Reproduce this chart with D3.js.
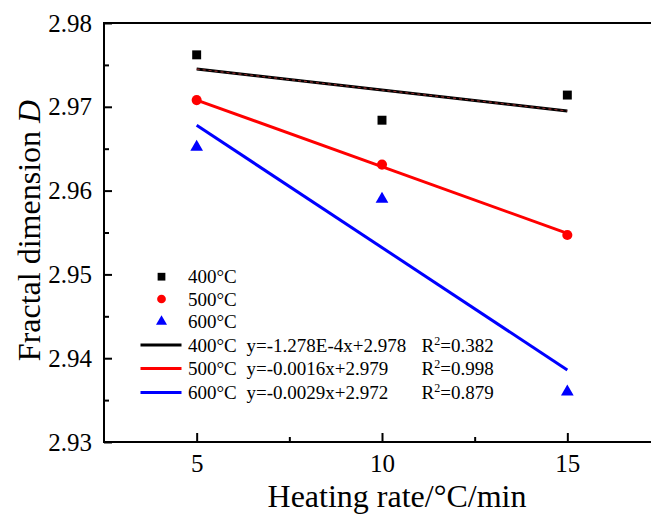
<!DOCTYPE html>
<html>
<head>
<meta charset="utf-8">
<script src="https://cdn.jsdelivr.net/npm/d3@7"></script>
<style>
  body { margin: 0; background: #fff; }
  svg { display: block; }
  svg text { font-family: "Liberation Serif", "Times New Roman", serif; }
</style>
</head>
<body>
<svg id="chart" width="651" height="514"></svg>
<script>
// heating rates (x) and measured fractal dimension per temperature
var rates = [5, 10, 15];
var d400 = [2.9762, 2.9684, 2.9714];
var d500 = [2.9708, 2.9631, 2.9547];
var d600 = [2.9652, 2.9590, 2.9360];
// fitted lines, read at x = 5 and x = 15
var fitX = [5, 15];
var fit400 = [2.9745, 2.9695];
var fit500 = [2.9708, 2.9549];
var fit600 = [2.9678, 2.9386];
var xTicks = [5, 10, 15];
var yTicks = [2.93, 2.94, 2.95, 2.96, 2.97, 2.98];
var legendNames = ["400°C", "500°C", "600°C"];
var fitEq = ["y=-1.278E-4x+2.978", "y=-0.0016x+2.979", "y=-0.0029x+2.972"];
var fitR2 = ["0.382", "0.998", "0.879"];

var colors = ["#000000", "#ff0000", "#0000ff"];
var svg = d3.select("#chart");

var x = d3.scaleLinear().domain([2.5, 17.5]).range([104, 660]);
var y = d3.scaleLinear().domain([2.93, 2.98]).range([442, 23]);

// frame (right side lies past the picture edge)
svg.append("rect")
    .attr("x", x(2.5)).attr("y", y(2.98))
    .attr("width", x(17.5) - x(2.5)).attr("height", y(2.93) - y(2.98))
    .attr("fill", "none").attr("stroke", "#000").attr("stroke-width", 2);

// bottom axis
var xAxis = svg.append("g").attr("transform", "translate(0," + y(2.93) + ")")
    .call(d3.axisBottom(x).tickValues(xTicks).tickSize(-9).tickPadding(20).tickFormat(d3.format("d")));
svg.append("g").attr("transform", "translate(0," + y(2.93) + ")")
    .call(d3.axisBottom(x).tickValues([7.5, 12.5]).tickSize(-5).tickFormat(""));

// left axis
var yAxis = svg.append("g").attr("transform", "translate(" + x(2.5) + ",0)")
    .call(d3.axisLeft(y).tickValues(yTicks).tickSize(-8).tickPadding(12).tickFormat(d3.format(".2f")));
svg.append("g").attr("transform", "translate(" + x(2.5) + ",0)")
    .call(d3.axisLeft(y).tickValues([2.935, 2.945, 2.955, 2.965, 2.975]).tickSize(-5).tickFormat(""));

svg.selectAll(".domain").remove();
xAxis.attr("font-family", "Liberation Serif").attr("font-size", 25);
yAxis.attr("font-family", "Liberation Serif").attr("font-size", 25);
svg.selectAll(".tick line").attr("stroke", "#000").attr("stroke-width", 2);
svg.selectAll(".tick text").attr("fill", "#000");
xAxis.selectAll(".tick text").attr("dy", "0.71em").attr("y", 12);

// axis titles
svg.append("text").attr("x", 397).attr("y", 507)
    .attr("text-anchor", "middle").attr("font-size", 32)
    .text("Heating rate/°C/min");
var yt = svg.append("text")
    .attr("transform", "translate(40," + ((y(2.93) + y(2.98)) / 2 - 2) + ") rotate(-90)")
    .attr("text-anchor", "middle").attr("font-size", 32);
yt.append("tspan").text("Fractal dimension ");
yt.append("tspan").attr("font-style", "italic").text("D");

// fit lines
var fits = [fit400, fit500, fit600];
var line = d3.line().x(function(d, i){ return x(fitX[i]); }).y(function(d){ return y(d); });
fits.forEach(function(f, k){
    svg.append("path").datum(f).attr("d", line)
        .attr("fill", "none").attr("stroke", colors[k]).attr("stroke-width", 3);
});
// the black fit line shows a reddish hatch in the original
svg.append("path").datum(fit400).attr("d", line)
    .attr("fill", "none").attr("stroke", "#8a2a2a").attr("stroke-width", 1.2)
    .attr("stroke-dasharray", "3,3");

// markers
var sym = [d3.symbolSquare, d3.symbolCircle, d3.symbolTriangle];
var sizes = [80, 80, 70];
[d400, d500, d600].forEach(function(s, k){
    svg.append("g").selectAll("path").data(s).enter().append("path")
        .attr("transform", function(d, i){ return "translate(" + x(rates[i]) + "," + y(d) + ")"; })
        .attr("d", d3.symbol().type(sym[k]).size(sizes[k]))
        .attr("fill", colors[k]);
});

// legend
var lg = svg.append("g").attr("font-size", 19);
var rowY = [276.7, 299, 321.5, 345, 368.5, 392.5];
legendNames.forEach(function(n, k){
    lg.append("path")
        .attr("transform", "translate(161.5," + rowY[k] + ")")
        .attr("d", d3.symbol().type(sym[k]).size(sizes[k] * 0.75))
        .attr("fill", colors[k]);
    lg.append("text").attr("x", 188).attr("y", rowY[k]).attr("dy", "0.35em").text(n);
});
legendNames.forEach(function(n, k){
    var ry = rowY[k + 3];
    lg.append("line").attr("x1", 140.5).attr("x2", 181.5).attr("y1", ry).attr("y2", ry)
        .attr("stroke", colors[k]).attr("stroke-width", 3);
    var t = lg.append("text").attr("x", 188).attr("y", ry + 6.5);
    t.append("tspan").text(n);
    t.append("tspan").attr("x", 246.5).text(fitEq[k]);
    t.append("tspan").attr("x", 421.5).text("R");
    t.append("tspan").attr("font-size", 12).attr("dy", -7).text("2");
    t.append("tspan").attr("dy", 7).text("=" + fitR2[k]);
});
</script>
</body>
</html>
